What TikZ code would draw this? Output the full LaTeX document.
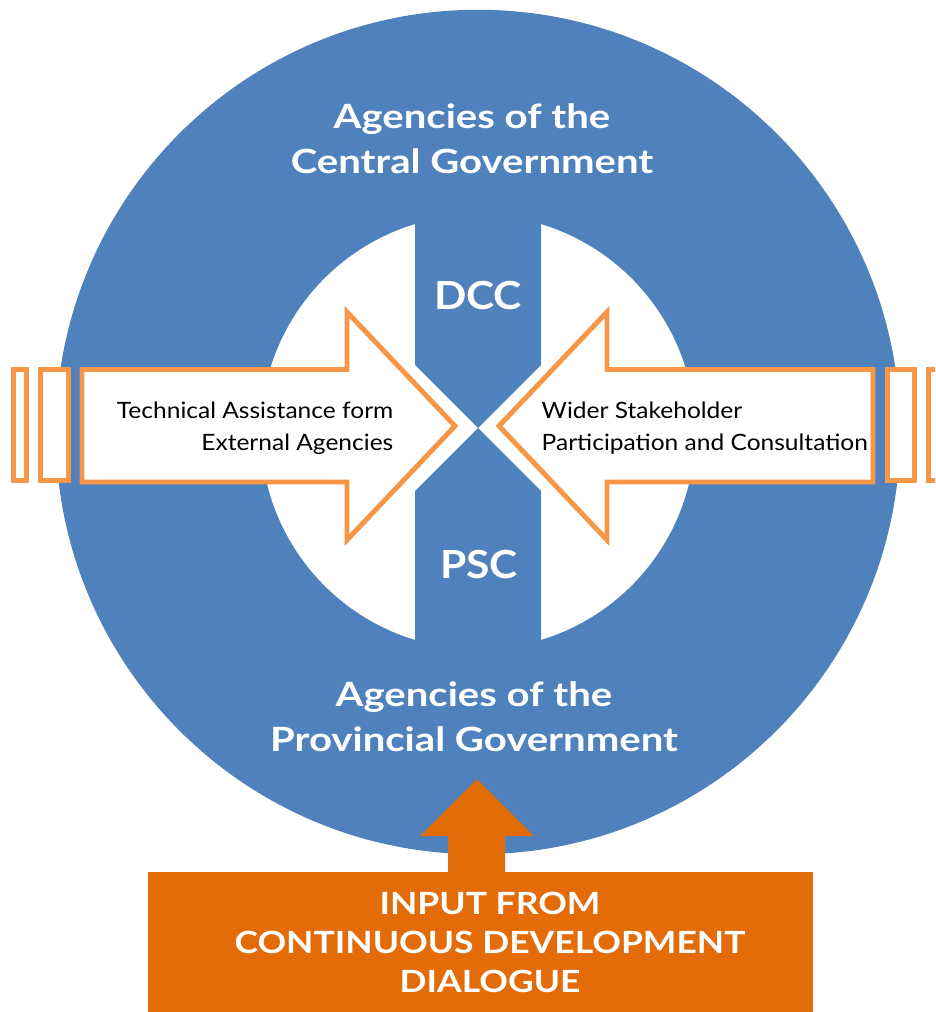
\documentclass[tikz,border=0pt]{standalone}
\usepackage{fontspec}
\setmainfont{Lato}
\newfontfamily\headfont[FakeStretch=1.2]{Lato}
\newfontfamily\councilfont[FakeStretch=1.1]{Lato}
\newfontfamily\labelfont[FakeStretch=1.09]{Lato}
\newfontfamily\inputfont[FakeStretch=1.16]{Lato}

\definecolor{govblue}{HTML}{4F81BD}
\definecolor{arrowline}{HTML}{F79646}
\definecolor{inputorange}{HTML}{E36C09}

\tikzset{
  outline/.style={draw=arrowline,fill=white,line width=1.4pt,line join=miter},
  heading/.style={text=white,align=center,font=\headfont\bfseries\fontsize{9.5}{12.8}\selectfont},
  council/.style={text=white,font=\councilfont\bfseries\fontsize{11}{13}\selectfont},
  arrowtext/.style={text=black,inner sep=0pt,font=\labelfont\fontsize{6.4}{9.1}\selectfont}
}

\begin{document}
\begin{tikzpicture}[x=0.01cm,y=-0.01cm]

  \clip (0,0) rectangle (935,1012);

  % circle with the two white halves
  \fill[govblue] (478,432) circle (4.22cm);
  \fill[white] (478,432) circle (2.17cm);
  \fill[govblue] (415,200) -- (415,365) -- (478,428) -- (541,365) -- (541,200) -- cycle;
  \fill[govblue] (415,664) -- (415,491) -- (478,428) -- (541,491) -- (541,664) -- cycle;

  \begin{scope}[every path/.style={outline}]
    \path (13.5,369.5) rectangle (26.5,480.5);
    \path (40.5,369.5) rectangle (68.5,480.5);
    \path (82,369.5) -- (347,369.5) -- (347,312) -- (455,426)
          -- (347,540) -- (347,482) -- (82,482) -- cycle;

    \path (873,369.5) -- (607,369.5) -- (607,312) -- (499,426)
          -- (607,540) -- (607,482) -- (873,482) -- cycle;
    \path (887.5,369.5) rectangle (914.5,480.5);
    \path (928.5,369.5) rectangle (960,480.5);
  \end{scope}

  % input from below
  \fill[inputorange] (448,874) -- (448,836) -- (420,836) -- (477,779)
        -- (534,836) -- (505,836) -- (505,874) -- cycle;
  \fill[inputorange] (148,872) rectangle (813,1020);

  \node[heading] (central) at (472,139) {Agencies of the\\Central Government};
  \node[council] (dcc) at (478,296) {DCC};
  \node[council] (psc) at (479,565) {PSC};
  \node[heading] (provincial) at (474,717) {Agencies of the\\Provincial Government};

  \node[arrowtext,align=right,anchor=east] (assist) at (394,428)
    {Technical Assistance form\\External Agencies};
  \node[arrowtext,align=left,anchor=west] (wider) at (541,428)
    {Wider Stakeholder\\Participation and Consultation};

  \node[heading,font=\inputfont\bfseries\fontsize{8.7}{11.1}\selectfont] (input) at (490,942)
    {INPUT FROM\\CONTINUOUS DEVELOPMENT\\DIALOGUE};

\end{tikzpicture}
\end{document}
